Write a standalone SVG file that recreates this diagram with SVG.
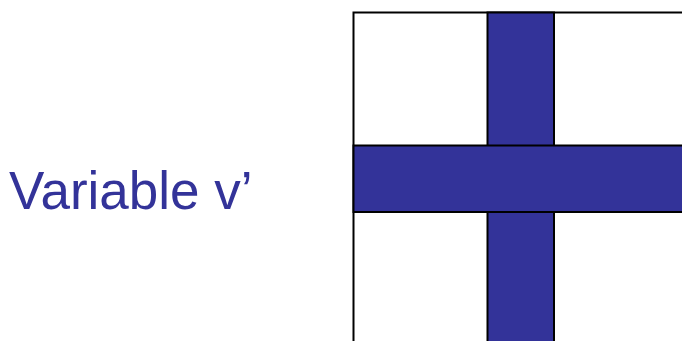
<svg xmlns="http://www.w3.org/2000/svg" width="682" height="341" viewBox="0 0 682 341">
<style>
.cell{fill:#ffffff;stroke:#000;stroke-width:2}
.on{fill:#333399;stroke:#000;stroke-width:2}
.lbl{font-family:"Liberation Sans",Arial,sans-serif;font-size:53px;fill:#333399}
</style>
<rect width="682" height="341" fill="#fff"/>
<g id="grid">
<rect class="cell" x="353.5" y="12.5" width="400" height="400"/>
<rect class="on" x="487.5" y="12.5" width="66.5" height="400"/>
<rect class="on" x="353.5" y="145.5" width="400" height="66.5"/>
</g>
<g id="label">
<text class="lbl" x="9" y="209">Variable v’</text>
</g>
</svg>
